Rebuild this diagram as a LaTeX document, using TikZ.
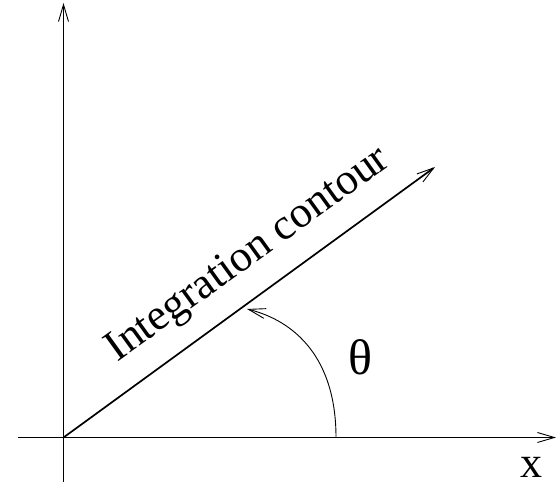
\documentclass[tikz,border=0pt]{standalone}
\usepackage{fontspec}
\setmainfont{Liberation Serif}
\usetikzlibrary{arrows.meta}
\tikzset{
  barb/.style={-{Straight Barb[length=17pt,width=10pt,line width=0.9pt]}},
  lbl/.style={inner sep=0pt,font=\fontsize{44}{52}\selectfont}
}
\begin{document}
\begin{tikzpicture}[x=1pt,y=1pt]
\useasboundingbox (0,0) rectangle (559,486);
\coordinate (O) at (63.5,48.5);
\coordinate (ybot) at (63.5,4);
\coordinate (ytop) at (63.5,483);
\coordinate (xl) at (18,48.5);
\coordinate (xr) at (556,48.5);
\coordinate (cend) at (435,319);
\coordinate (astart) at (336,48.5);
\coordinate (aend) at (247,177);
\draw[barb, line width=0.9pt] (ybot) -- (ytop);
\draw[barb, line width=1.6pt] (xl) -- (xr);
\draw[barb, line width=1.7pt] (O) -- (cend);
\draw[barb, line width=0.9pt]
  (astart) .. controls (336,128) and (295,165) .. (aend);
\node[lbl, anchor=base, rotate=35.8] (txt) at (254.5,222.5) {Integration contour};
\node[lbl, font=\fontsize{50}{58}\selectfont] (theta) at (360,129) {θ};
\node[lbl] (xlab) at (531,19) {x};
\end{tikzpicture}
\end{document}
